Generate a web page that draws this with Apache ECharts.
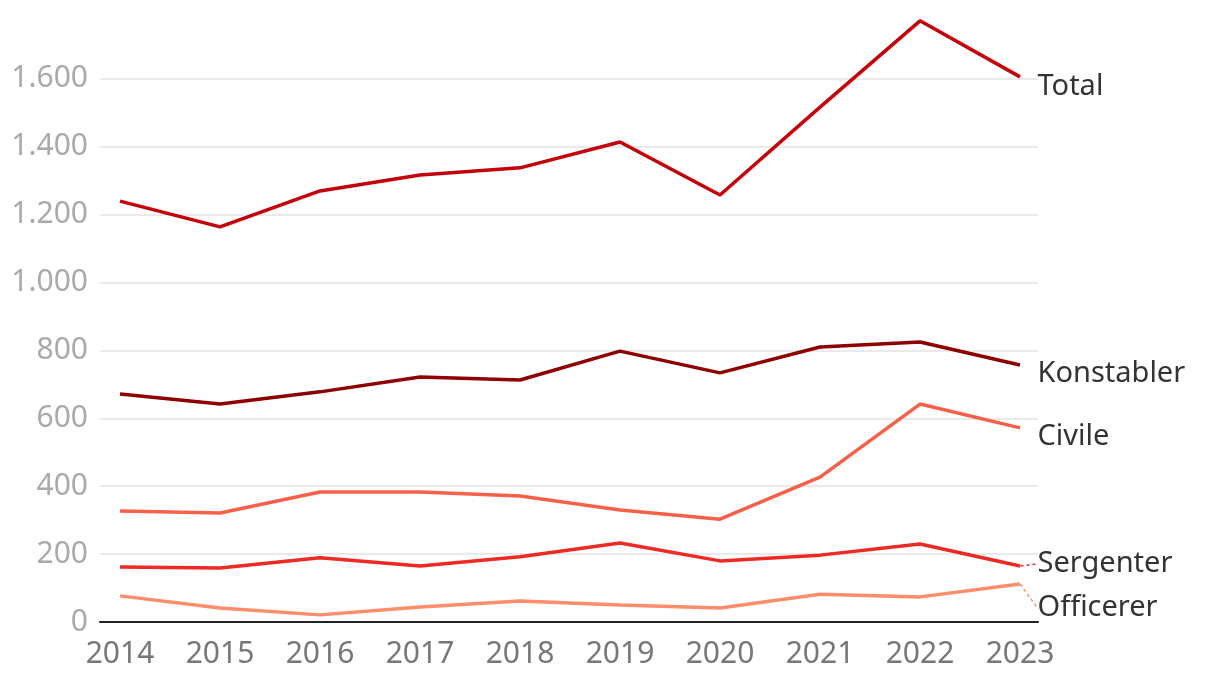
<!DOCTYPE html>
<html><head><meta charset="utf-8">
<script src="https://cdn.jsdelivr.net/npm/echarts@6/dist/echarts.min.js"></script>
<style>html,body{margin:0;padding:0;background:#fff}#c{width:1220px;height:678px}</style>
</head><body><div id="c"></div>
<script>
const years = [2014,2015,2016,2017,2018,2019,2020,2021,2022,2023];
const yTicks = [0,200,400,600,800,1000,1200,1400,1600];
const total = [1240,1164,1270,1317,1338,1414,1258,1517,1771,1606];
const konstabler = [672,642,678,722,713,798,734,810,825,757];
const civile = [327,321,383,383,371,330,303,427,642,572];
const sergenter = [162,159,189,165,192,233,180,197,230,165];
const officerer = [77,41,21,44,62,50,41,82,74,112];

const FONT = '"Noto Sans", sans-serif';
function mk(name, vals, color, dy, guide){
  const data = vals.map((v,i)=>[years[i], v]);
  const last = data.length-1;
  data[last] = {value: data[last], label:{show:true}};
  const s = {
    name, type:'line', data, symbol:'circle', symbolSize:1, showSymbol:true,
    lineStyle:{color, width:3.5}, itemStyle:{color:'rgba(0,0,0,0)'},
    label:{show:false, position:'right', distance:17, formatter:name,
      color:'#333', fontSize:29, fontFamily:FONT},
    labelLine:{show:!!guide, lineStyle:{color, type:[3,3], width:1.5}},
    emphasis:{disabled:true}, animation:false, silent:true
  };
  s.labelLayout = function(p){ return p.dataIndex===last ? {dy:dy} : {}; };
  return s;
}
const chart = echarts.init(document.getElementById('c'));
chart.setOption({
  animation:false,
  grid:{left:100, right:182, top:11, bottom:56},
  xAxis:{type:'value', min:2013.8, max:2023.18,
    axisLine:{show:true, onZero:false, lineStyle:{color:'#222', width:2}},
    axisTick:{show:false},
    splitLine:{show:false},
    axisLabel:{customValues:years, color:'#777', fontSize:30, fontFamily:FONT, margin:17,
      formatter:v=>String(v)}
  },
  yAxis:{type:'value', min:0, max:1800, interval:200,
    axisLine:{show:false}, axisTick:{show:false},
    splitLine:{show:true, showMaxLine:false, lineStyle:{color:'#e3e3e3', width:1.5}},
    axisLabel:{color:'#aaa', fontSize:30, fontFamily:FONT, margin:12, showMaxLabel:false,
      formatter:v=>v.toLocaleString('de-DE')}
  },
  series:[
    mk('Total', total, '#c4000b', 10),
    mk('Konstabler', konstabler, '#8e0000', 9),
    mk('Civile', civile, '#f9604a', 9),
    mk('Sergenter', sergenter, '#ee2a24', -2, true),
    mk('Officerer', officerer, '#ff8c6b', 24, true)
  ]
});
</script></body></html>
